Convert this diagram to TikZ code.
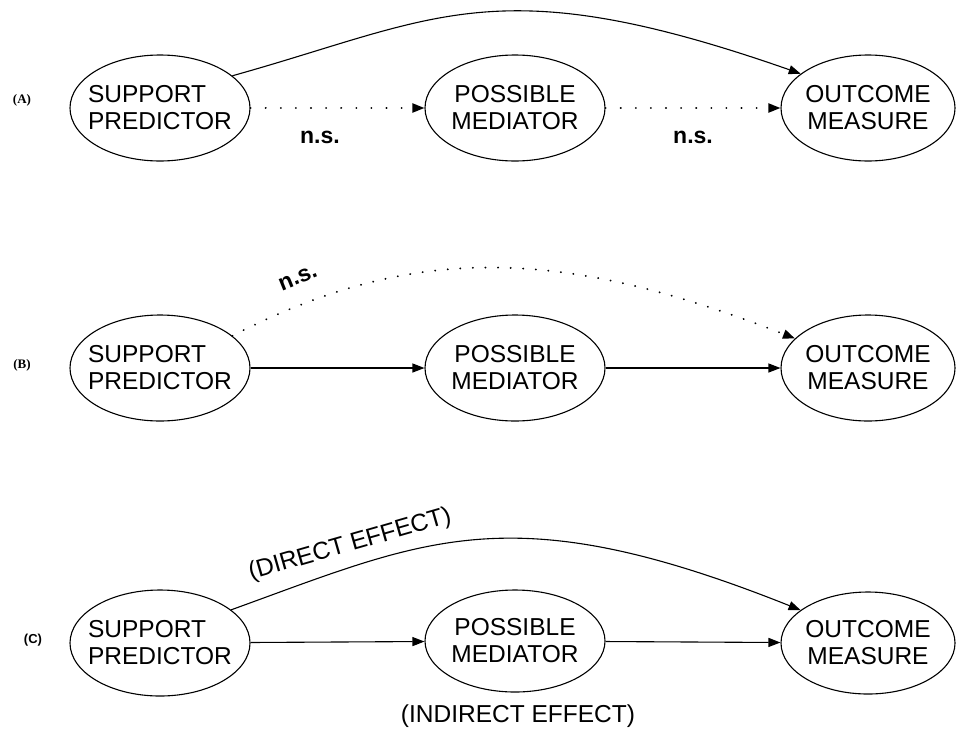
\documentclass[tikz,border=0pt]{standalone}
\usepackage{fontspec}
\setmainfont{Liberation Sans}
\newfontfamily\tagfont{Liberation Serif}
\usetikzlibrary{arrows.meta,shapes.geometric}
\begin{document}
\begin{tikzpicture}[x=1pt,y=-1pt,
  var/.style={draw, ellipse, line width=1.1pt, minimum width=180pt,
    minimum height=106pt, inner sep=0pt},
  vtext/.style={font=\fontsize{24.5}{27}\selectfont, align=center, inner sep=0pt},
  link/.style={line width=1.1pt, -{Triangle[length=12pt,width=9pt]}},
  dotlink/.style={link, line cap=round, dash pattern=on 0.1pt off 15pt, line width=2pt},
  arclink/.style={link, line cap=round, dash pattern=on 0.1pt off 12.5pt, line width=2pt},
  lab/.style={font=\fontsize{24.5}{27}\selectfont, inner sep=0pt},
  ns/.style={font=\bfseries\fontsize{23}{26}\selectfont, inner sep=0pt},
  tag/.style={font=\tagfont\bfseries\fontsize{13}{14}\selectfont, inner sep=0pt},
  tagsans/.style={font=\bfseries\fontsize{13}{14}\selectfont, inner sep=0pt}]
\useasboundingbox (0,0) rectangle (957,731);

% ---------- (A) ----------
\node[tag] (tA) at (22,100) {(A)};
\node[var, label={[vtext, align=left]center:SUPPORT\\PREDICTOR}] (sA) at (160,108) {};
\node[var, label={[vtext]center:POSSIBLE\\MEDIATOR}] (mA) at (515,108) {};
\node[var, minimum width=174pt, label={[vtext]center:OUTCOME\\MEASURE}] (oA) at (868,108) {};
\draw[dotlink] (sA) -- (mA);
\draw[dotlink] (mA) -- (oA);
\draw[link] (sA.24) .. controls (439,18) and (496,-33) .. (oA.153);
\node[ns] (nsA1) at (320,137) {n.s.};
\node[ns] (nsA2) at (693,137) {n.s.};

% ---------- (B) ----------
\node[tag] (tB) at (22,365) {(B)};
\node[var, label={[vtext, align=left]center:SUPPORT\\PREDICTOR}] (sB) at (160,368) {};
\node[var, label={[vtext]center:POSSIBLE\\MEDIATOR}] (mB) at (515,368) {};
\node[var, minimum width=174pt, label={[vtext]center:OUTCOME\\MEASURE}] (oB) at (868,368) {};
\draw[link] (sB) -- (mB);
\draw[link] (mB) -- (oB);
\draw[arclink] (sB.24) .. controls (408,246) and (554,244) .. (oB.158);
\node[ns, rotate=22] (nsB) at (298,278) {n.s.};

% ---------- (C) ----------
\node[tagsans] (tC) at (33,640) {(C)};
\node[var, label={[vtext, align=left]center:SUPPORT\\PREDICTOR}] (sC) at (160,643) {};
\node[var, minimum height=102pt, label={[vtext]center:POSSIBLE\\MEDIATOR}] (mC) at (515,641) {};
\node[var, minimum width=174pt, minimum height=102pt, label={[vtext]center:OUTCOME\\MEASURE}] (oC) at (868,643) {};
\draw[link] (sC) -- (mC);
\draw[link] (mC) -- (oC);
\draw[link] (sC.25) .. controls (427,539) and (510,494) .. (oC.154);
\node[lab, rotate=16] (direct) at (350,545) {(DIRECT EFFECT)};
\node[lab] (indirect) at (518,716) {(INDIRECT EFFECT)};
\end{tikzpicture}
\end{document}
